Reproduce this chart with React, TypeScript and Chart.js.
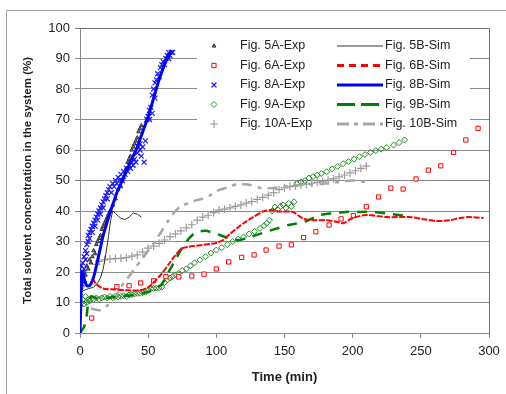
import React, { useEffect, useRef } from 'react';
import { Chart, registerables } from 'chart.js';
import { drawPoint } from 'chart.js/helpers';

Chart.register(...registerables);

type P = [number, number];

const X_MIN = 0;
const X_MAX = 300;
const X_STEP = 50;
const Y_MIN = 0;
const Y_MAX = 100;
const Y_STEP = 10;

const X_TITLE = 'Time (min)';
const Y_TITLE = 'Total solvent concentration in the system (%)';

const LABELS_EXP = ['Fig. 5A-Exp', 'Fig. 6A-Exp', 'Fig. 8A-Exp', 'Fig. 9A-Exp', 'Fig. 10A-Exp'];
const LABELS_SIM = ['Fig. 5B-Sim', 'Fig. 6B-Sim', 'Fig. 8B-Sim', 'Fig. 9B-Sim', 'Fig. 10B-Sim'];

const FIG5A_EXP: P[] = [
  [0, 13], [1, 15], [1.5, 17], [2, 18], [3, 20], [3.5, 17], [4, 19], [5, 22], [6, 21], [7, 24], [8, 23], [9, 25],
  [10, 27], [11, 26], [12, 29], [13, 30], [14, 31], [15, 32], [16, 34], [17, 35], [18, 36], [19, 37], [20, 38],
  [21, 39], [22, 40], [24, 42], [26, 44], [28, 47], [30, 48], [31, 50], [32, 51], [33, 53], [34, 54], [35, 56],
  [36, 57], [37, 58], [38, 60], [39, 61], [40, 62], [41, 63], [42, 64], [43, 66], [44, 67], [45, 68],
];

const FIG5B_SIM: P[] = [
  [0, 13], [3, 14], [6, 14.5], [10, 15], [13, 16.5], [15, 18], [17, 21], [19, 26], [21, 32], [22.5, 37], [24, 40],
  [26, 39.3], [28, 38.3], [30, 37.6], [33, 37.2], [36, 38], [39, 39.3], [42, 39], [45, 38],
];

const FIG6A_EXP: P[] = [
  [8.6, 4.9], [27, 15.2], [36, 15.5], [44.5, 16.4], [54, 17.1], [63, 18.5], [72.5, 18.4], [82, 18.7], [91, 19.3],
  [100, 21], [109, 23.3], [118.6, 24.8], [127.7, 25.6], [136.5, 27.2], [146, 28.5], [155, 28.9], [164, 31.3],
  [173, 33.2], [182.7, 35.4], [191.5, 37.4], [200.5, 38.5], [210, 41.4], [219, 44.6], [228, 47.5], [237, 47.2],
  [246.5, 50.5], [255.5, 53.4], [264.6, 54.8], [274, 59.2], [283, 63.3], [292, 67.1],
];

const FIG6B_SIM: P[] = [
  [9, 18], [12, 16], [17, 14.6], [25, 14.3], [35, 14], [44, 14], [50, 15], [55, 17], [60, 19.5], [65, 22.5],
  [70, 25.5], [75, 27.8], [80, 28.3], [90, 28.9], [100, 29.5], [105, 30.5], [110, 32.5], [115, 34.3], [120, 36],
  [127, 38], [134, 39.8], [140, 40.3], [147, 39.8], [156, 39.7], [164, 37.4], [172, 37], [181, 37], [188, 36.5],
  [193, 36], [200, 37.7], [210, 38.7], [225, 38], [242, 38], [252, 37.3], [262, 36.7], [271, 37], [280, 37.8],
  [286, 38], [296, 37.7],
];

const FIG8A_EXP: P[] = [
  [0, 15], [0, 17], [0, 19], [0, 21], [0.5, 18], [1, 20], [1, 22], [1.5, 16], [2, 19], [2, 23], [3, 21], [3, 25],
  [4, 27], [4, 24], [5, 29], [5, 26], [6, 30], [6, 32], [7, 31], [7, 33], [8, 34], [9, 33], [9, 35], [10, 36],
  [11, 35], [11, 37], [12, 38], [13, 39], [13, 37], [14, 40], [15, 41], [15, 39], [16, 42], [17, 43], [17, 41],
  [18, 44], [19, 45], [20, 46], [20, 44], [21, 47], [22, 48], [23, 46], [24, 49], [25, 48], [26, 50], [27, 49],
  [28, 51], [29, 50], [30, 52], [31, 50], [32, 53], [33, 52], [34, 54], [35, 53], [36, 55], [37, 54], [38, 56],
  [39, 55], [40, 57], [41, 56], [42, 59], [43, 61], [44, 60], [44, 62], [45, 58], [46, 61], [47, 56], [48, 63],
  [49, 70], [50, 71], [51, 73], [51, 70], [52, 74], [53, 72], [53, 78], [54, 80], [55, 77], [55, 82], [56, 83],
  [57, 85], [58, 84], [59, 87], [60, 88], [61, 89], [62, 88], [63, 90], [64, 91], [65, 90], [65, 92], [66, 91],
  [67, 92], [68, 92],
];

const FIG8B_SIM: P[] = [
  [0, 0], [0.5, 8], [1, 16], [1.5, 20], [2.5, 19], [3.5, 17], [5, 15.5], [7, 15.5], [9, 17], [11, 20], [13, 24],
  [15, 28], [17, 32], [19, 35], [21, 38], [24, 42], [27, 46], [30, 49], [34, 53], [38, 57], [42, 61], [46, 66],
  [50, 71], [54, 77], [58, 83], [62, 88], [65, 91], [68, 92.5],
];

const FIG9A_EXP: P[] = [
  [0, 9], [1, 10], [2, 11], [3, 9.5], [4, 12], [5, 10], [6, 11], [7, 10.5], [8, 11], [10, 11], [12, 11.5],
  [14, 11], [16, 11.5], [18, 11.8], [20, 11.5], [22, 12], [24, 11.6], [26, 12], [28, 11.8], [30, 12], [32, 12.2],
  [34, 12], [36, 12.5], [38, 12.6], [40, 12.8], [42, 13], [44, 13], [46, 13.2], [48, 13.4], [50, 14], [52, 14.5],
  [54, 14.6], [56, 14.7], [58, 14.8], [60, 15], [62, 16.5], [64, 17.5], [66, 18], [68, 18.5], [70, 19],
  [72, 19.5], [75, 20.5], [78, 21], [81, 22], [84, 23], [88, 24], [92, 25], [96, 26.2], [100, 27.2], [104, 28],
  [108, 29], [112, 30], [116, 30.8], [120, 31.5], [124, 32.5], [128, 33.3], [132, 34.3], [135, 35.2], [137, 36],
  [139, 37], [141, 40], [143, 41.3], [145, 40.5], [147, 41.5], [149, 42], [151, 41], [153, 42.5], [155, 41.5],
  [157, 43], [159, 49], [162, 49.5], [165, 50], [168, 50.8], [171, 51.3], [174, 51.8], [177, 52.3], [181, 52.9],
  [185, 53.8], [189, 54.6], [193, 55.5], [197, 56.2], [201, 57], [205, 57.8], [209, 58.5], [213, 59.2],
  [217, 59.8], [221, 60.3], [225, 60.8], [230, 61.6], [234, 62.4], [238, 63.3],
];

const FIG9B_SIM: P[] = [
  [0, 0], [3, 2], [5, 6], [6, 10], [8, 12], [12, 11.5], [20, 11.5], [30, 12], [40, 12.5], [50, 13.5], [55, 14.5],
  [60, 16], [65, 20], [70, 24], [75, 28], [80, 31], [85, 33], [92, 33.5], [100, 32.5], [110, 31], [117, 30.5],
  [125, 31.5], [132, 32.5], [141, 33.8], [153, 35.4], [165, 36.5], [176, 38.7], [186, 39.3], [195, 39.7],
  [205, 39.7], [215, 39.7], [225, 39.2], [237, 38.5],
];

const FIG10A_EXP: P[] = [
  [12, 22.5], [14, 23.5], [18, 24], [22, 24.3], [26, 24.4], [30, 24.5], [34, 24.7], [38, 25.2], [42, 25.6],
  [46, 26.5], [50, 27.8], [54, 28.5], [58, 29.4], [62, 30.5], [66, 31.6], [70, 32.5], [74, 33.5], [78, 34.5],
  [82, 35.5], [86, 37], [90, 38], [94, 38.6], [98, 39.5], [102, 40.3], [106, 40.6], [110, 41], [114, 41.5],
  [118, 42], [122, 42.6], [126, 43.1], [130, 43.8], [134, 44.5], [138, 45.2], [142, 46], [146, 47], [150, 47.6],
  [154, 48], [158, 48.3], [162, 48.6], [166, 48.8], [170, 49.1], [174, 49.4], [178, 49.7], [182, 50.1],
  [186, 50.6], [190, 51.2], [194, 51.8], [198, 52.5], [202, 53.2], [206, 54], [210, 54.7],
];

const FIG10B_SIM: P[] = [
  [8, 8], [15, 7.5], [20, 9], [25, 11], [30, 15], [35, 18], [40, 21], [45, 24], [50, 27], [55, 30], [60, 33.5],
  [65, 37], [70, 40], [75, 42], [80, 42.5], [85, 43.5], [90, 44], [95, 45], [100, 46.5], [105, 47.3], [110, 48],
  [115, 48.8], [120, 48.8], [125, 48.5], [133, 47.5], [140, 47.5], [150, 48], [160, 48.5], [170, 48.7],
  [180, 49], [190, 49.5], [200, 50], [205, 49.8], [209, 49.5],
];

const FONT = '"Liberation Sans", Arial, sans-serif';
const TEXT = '#222222';
const GRID = '#8a8a8a';

const toXY = (arr: P[]) => arr.map(([x, y]) => ({ x, y }));

const expSet = (label: string, data: P[], style: string, radius: number, border: string, fill: string, bw = 1) => ({
  label,
  data: toXY(data),
  showLine: false,
  pointStyle: style,
  pointRadius: radius,
  pointBorderColor: border,
  pointBackgroundColor: fill,
  pointBorderWidth: bw,
  borderColor: border,
  backgroundColor: fill,
});

const simSet = (
  label: string, data: P[], color: string, width: number, dash: number[],
  legendWidth: number, legendDash: number[], tension = 0.25,
) => ({
  label,
  data: toXY(data),
  showLine: true,
  pointRadius: 0,
  borderColor: color,
  backgroundColor: color,
  borderWidth: width,
  borderDash: dash,
  fill: false,
  tension,
  legendWidth,
  legendDash,
});

const legendPlugin = {
  id: 'xlFrameLegend',
  beforeDatasetsDraw(chart: any) {
    const { ctx, chartArea: a } = chart;
    ctx.save();
    // plot area top / right border
    ctx.strokeStyle = '#6f6f6f';
    ctx.lineWidth = 1;
    ctx.beginPath();
    ctx.moveTo(a.left, Math.round(a.top) + 0.5);
    ctx.lineTo(Math.round(a.right) + 0.5, Math.round(a.top) + 0.5);
    ctx.lineTo(Math.round(a.right) + 0.5, a.bottom);
    ctx.stroke();

    // legend box
    const bx = a.left + 117;
    const by = a.top + 6;
    ctx.fillStyle = '#ffffff';
    ctx.fillRect(bx, by, 273, 106);

    const datasets = chart.data.datasets as any[];
    const rowY = (i: number) => a.top + 18 + i * 19.5;
    ctx.font = `12.5px ${FONT}`;
    ctx.textBaseline = 'middle';
    ctx.textAlign = 'left';

    LABELS_EXP.forEach((lab, i) => {
      const ds = datasets.find((d) => d.label === lab);
      const y = rowY(i);
      if (ds) {
        ctx.save();
        ctx.strokeStyle = ds.pointBorderColor;
        ctx.fillStyle = ds.pointBackgroundColor;
        ctx.lineWidth = ds.pointBorderWidth;
        drawPoint(ctx, { pointStyle: ds.pointStyle, radius: ds.pointRadius, rotation: 0, borderWidth: ds.pointBorderWidth } as any, a.left + 134, y);
        ctx.restore();
      }
      ctx.fillStyle = TEXT;
      ctx.fillText(lab, a.left + 160, y);
    });

    LABELS_SIM.forEach((lab, i) => {
      const ds = datasets.find((d) => d.label === lab);
      const y = rowY(i);
      if (ds) {
        ctx.save();
        ctx.strokeStyle = ds.borderColor;
        ctx.lineWidth = ds.legendWidth;
        ctx.setLineDash(ds.legendDash);
        ctx.beginPath();
        ctx.moveTo(a.left + 257, y);
        ctx.lineTo(a.left + 303, y);
        ctx.stroke();
        ctx.restore();
      }
      ctx.fillStyle = TEXT;
      ctx.fillText(lab, a.left + 305, y);
    });
    ctx.restore();
  },
  afterDraw(chart: any) {
    const { ctx, width, height } = chart;
    ctx.save();
    ctx.strokeStyle = '#a6a6a6';
    ctx.lineWidth = 1;
    ctx.beginPath();
    ctx.moveTo(6.5, height);
    ctx.lineTo(6.5, 10.5);
    ctx.lineTo(width, 10.5);
    ctx.stroke();
    ctx.restore();
  },
};

export default function App() {
  const ref = useRef<HTMLCanvasElement | null>(null);

  useEffect(() => {
    document.body.style.margin = '0';
    const canvas = ref.current;
    if (!canvas) return;

    const datasets: any[] = [
      simSet(LABELS_SIM[2], FIG8B_SIM, '#0000ff', 3, [], 3, []),
      expSet(LABELS_EXP[2], FIG8A_EXP, 'crossRot', 3.5, '#1a1aff', 'rgba(0,0,0,0)', 1.2),
      expSet(LABELS_EXP[0], FIG5A_EXP, 'triangle', 2.2, '#333333', '#777777', 1),
      simSet(LABELS_SIM[0], FIG5B_SIM, '#333333', 1, [], 1, [], 0),
      simSet(LABELS_SIM[1], FIG6B_SIM, '#ff0000', 2, [6, 1.5], 3, [7, 5]),
      simSet(LABELS_SIM[3], FIG9B_SIM, '#008000', 2.5, [10, 8], 3, [18, 6]),
      simSet(LABELS_SIM[4], FIG10B_SIM, '#a6a6a6', 2.5, [10, 6, 4, 6], 3, [12, 5, 4, 5]),
      expSet(LABELS_EXP[1], FIG6A_EXP, 'rect', 3, '#ff0000', '#ffffff', 1),
      expSet(LABELS_EXP[3], FIG9A_EXP, 'rectRot', 3, '#1f8a1f', 'rgba(0,0,0,0)', 1),
      expSet(LABELS_EXP[4], FIG10A_EXP, 'cross', 4, '#9a9a9a', 'rgba(0,0,0,0)', 1.2),
    ];

    const chart = new Chart(canvas, {
      type: 'scatter',
      data: { datasets },
      options: {
        responsive: false,
        animation: false,
        devicePixelRatio: 1,
        layout: { padding: { left: 0, top: 28, right: 17, bottom: 0 } },
        plugins: {
          legend: { display: false },
          tooltip: { enabled: false },
        },
        scales: {
          x: {
            type: 'linear',
            min: X_MIN,
            max: X_MAX,
            ticks: {
              stepSize: X_STEP,
              color: TEXT,
              font: { family: FONT, size: 13 },
              padding: 6,
              maxRotation: 0,
            },
            grid: { drawOnChartArea: false, drawTicks: true, tickLength: 5, color: GRID },
            border: { display: true, color: GRID, width: 1 },
            title: {
              display: true,
              text: X_TITLE,
              color: TEXT,
              font: { family: FONT, size: 13, weight: 'bold' },
              padding: { top: 4, bottom: 9 },
            },
            afterFit: (s: any) => { s.height = 61; },
          },
          y: {
            type: 'linear',
            min: Y_MIN,
            max: Y_MAX,
            ticks: {
              stepSize: Y_STEP,
              color: TEXT,
              font: { family: FONT, size: 13 },
              padding: 5,
            },
            grid: { drawOnChartArea: true, drawTicks: true, tickLength: 5, color: GRID },
            border: { display: true, color: GRID, width: 1 },
            title: {
              display: true,
              text: Y_TITLE,
              color: TEXT,
              font: { family: FONT, size: 11.5, weight: 'bold' },
              padding: { top: 21, bottom: 0 },
            },
            afterFit: (s: any) => { s.width = 80; },
          },
        },
      } as any,
      plugins: [legendPlugin],
    });

    return () => chart.destroy();
  }, []);

  return (
    <div style={{ width: 506, height: 394, background: '#fff' }}>
      <canvas ref={ref} width={506} height={394} style={{ display: 'block' }} />
    </div>
  );
}
